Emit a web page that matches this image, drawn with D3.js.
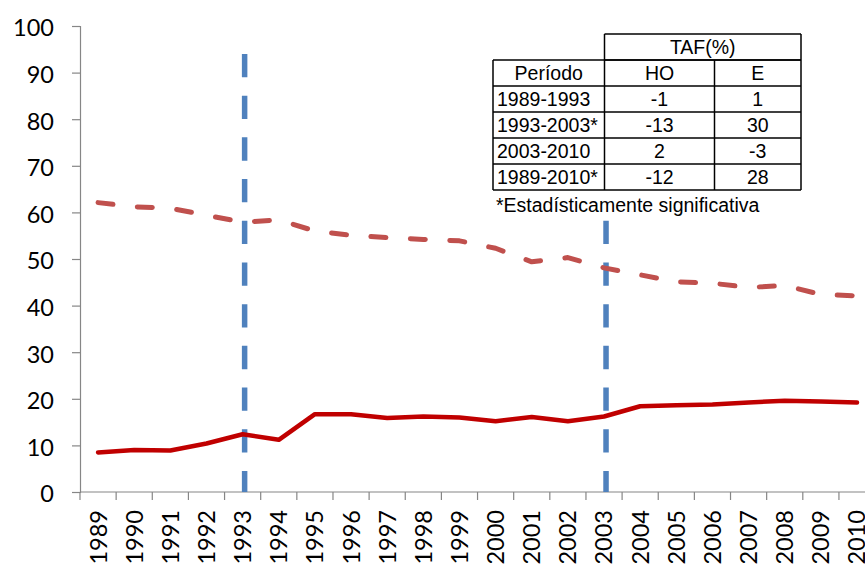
<!DOCTYPE html>
<html>
<head>
<meta charset="utf-8">
<script src="https://cdn.jsdelivr.net/npm/d3@7/dist/d3.min.js"></script>
<style>
  html, body { margin: 0; padding: 0; background: #fff; }
  svg { display: block; }
</style>
</head>
<body>
<svg id="chart" width="865" height="565"></svg>
<script>
// ---- data ----
const years = ["1989","1990","1991","1992","1993","1994","1995","1996","1997","1998","1999",
               "2000","2001","2002","2003","2004","2005","2006","2007","2008","2009","2010"];
// dashed series (HO)
const hoValues = [62.1, 61.2, 60.9, 59.4, 57.9, 58.4, 56.0, 55.1, 54.6, 54.2, 53.9,
                  52.3, 49.4, 50.3, 48.1, 46.6, 45.1, 44.8, 43.9, 44.3, 42.4, 42.1];
// solid series (E)
const eValues = [8.5, 9.0, 8.9, 10.4, 12.4, 11.2, 16.7, 16.7, 15.9, 16.2, 16.0,
                 15.2, 16.1, 15.2, 16.2, 18.4, 18.6, 18.8, 19.2, 19.6, 19.4, 19.2];
const yTicks = [0, 10, 20, 30, 40, 50, 60, 70, 80, 90, 100];
const breakYears = ["1993", "2003"];
const breakTop = 94;

const tableTitle = "TAF(%)";
const tableHeader = ["Período", "HO", "E"];
const tablePeriods = ["1989-1993", "1993-2003*", "2003-2010", "1989-2010*"];
const tableHO = ["-1", "-13", "2", "-12"];
const tableE = ["1", "30", "-3", "28"];
const footnote = "*Estadísticamente significativa";

// ---- layout ----
const svg = d3.select("#chart");
const plotLeft = 80, plotBottom = 492, plotTop = 26, catStep = 36.14;
const x = d3.scaleBand().domain(years).range([plotLeft, plotLeft + catStep * years.length]).padding(0);
const y = d3.scaleLinear().domain([0, 100]).range([plotBottom, plotTop]);
const axisColor = "#868686";
const tickFont = "Lato, 'Open Sans', sans-serif";

// y axis
const yAxis = d3.axisLeft(y).tickValues(yTicks).tickSize(8).tickPadding(18).tickFormat(d3.format("d"));
const gy = svg.append("g").attr("transform", `translate(${plotLeft},0)`).call(yAxis);
gy.select(".domain").attr("stroke", axisColor).attr("stroke-width", 1.2);
gy.selectAll(".tick line").attr("stroke", axisColor).attr("stroke-width", 1.2);
gy.selectAll(".tick text").attr("font-family", tickFont).attr("font-size", "23.5px")
  .attr("fill", "#000").attr("dy", "0.42em");

// x axis
const gx = svg.append("g").attr("transform", `translate(0,${plotBottom})`);
gx.append("line").attr("x1", plotLeft).attr("x2", x.range()[1]).attr("y1", 0).attr("y2", 0)
  .attr("stroke", axisColor).attr("stroke-width", 1.2);
const bounds = years.map(d => x(d)).concat([x.range()[1]]);
gx.selectAll("line.tk").data(bounds).enter().append("line").attr("class", "tk")
  .attr("x1", d => d).attr("x2", d => d).attr("y1", 0).attr("y2", 8)
  .attr("stroke", axisColor).attr("stroke-width", 1.2);
gx.selectAll("text").data(years).enter().append("text")
  .attr("transform", d => `translate(${x(d) + x.bandwidth() / 2},18) rotate(-90)`)
  .attr("text-anchor", "end").attr("dy", "0.36em")
  .attr("font-family", tickFont).attr("font-size", "23.5px").attr("fill", "#000")
  .text(d => d);

// vertical period break lines
svg.selectAll("line.brk").data(breakYears).enter().append("line").attr("class", "brk")
  .attr("x1", d => x(d) + x.bandwidth() / 2 + 2).attr("x2", d => x(d) + x.bandwidth() / 2 + 2)
  .attr("y1", y(breakTop)).attr("y2", y(0))
  .attr("stroke", "#4F81BD").attr("stroke-width", 5.5).attr("stroke-dasharray", "23.3 18.4");

// series lines
const line = d3.line().x((d, i) => x(years[i]) + x.bandwidth() / 2).y(d => y(d));
svg.append("path").datum(hoValues).attr("d", line).attr("fill", "none")
  .attr("stroke", "#C0504D").attr("stroke-width", 5).attr("stroke-linecap", "round")
  .attr("stroke-linejoin", "round").attr("stroke-dasharray", "15 24.5");
svg.append("path").datum(eValues).attr("d", line).attr("fill", "none")
  .attr("stroke", "#C00000").attr("stroke-width", 4.5).attr("stroke-linecap", "round")
  .attr("stroke-linejoin", "round");

// ---- table ----
const tFont = "'Liberation Sans', Arial, sans-serif";
const tX = [493, 604.5, 714.5, 801];
const tTop = 34, rowH = 26;
const tg = svg.append("g");
tg.append("rect").attr("x", tX[0] - 2).attr("y", tTop - 1).attr("width", tX[3] - tX[0] + 4)
  .attr("height", 184).attr("fill", "#fff");
const nRows = 2 + tablePeriods.length;
const lc = "#000", lw = 1.5;
tg.append("line").attr("x1", tX[1]).attr("x2", tX[3]).attr("y1", tTop).attr("y2", tTop).attr("stroke", lc).attr("stroke-width", lw);
for (let r = 1; r <= nRows; r++) {
  tg.append("line").attr("x1", r === 1 ? tX[1] : tX[0]).attr("x2", tX[3])
    .attr("y1", tTop + r * rowH).attr("y2", tTop + r * rowH).attr("stroke", lc).attr("stroke-width", lw);
}
tg.append("line").attr("x1", tX[0]).attr("x2", tX[3]).attr("y1", tTop + rowH).attr("y2", tTop + rowH).attr("stroke", lc).attr("stroke-width", lw);
tg.append("line").attr("x1", tX[0]).attr("x2", tX[0]).attr("y1", tTop + rowH).attr("y2", tTop + nRows * rowH).attr("stroke", lc).attr("stroke-width", lw);
tg.append("line").attr("x1", tX[1]).attr("x2", tX[1]).attr("y1", tTop).attr("y2", tTop + nRows * rowH).attr("stroke", lc).attr("stroke-width", lw);
tg.append("line").attr("x1", tX[2]).attr("x2", tX[2]).attr("y1", tTop + rowH).attr("y2", tTop + nRows * rowH).attr("stroke", lc).attr("stroke-width", lw);
tg.append("line").attr("x1", tX[3]).attr("x2", tX[3]).attr("y1", tTop).attr("y2", tTop + nRows * rowH).attr("stroke", lc).attr("stroke-width", lw);

function cell(txt, xx, row, anchor) {
  tg.append("text").attr("x", xx).attr("y", tTop + row * rowH + rowH / 2).attr("dy", "0.36em")
    .attr("text-anchor", anchor).attr("font-family", tFont).attr("font-size", "19.5px").attr("fill", "#000").text(txt);
}
cell(tableTitle, (tX[1] + tX[3]) / 2, 0, "middle");
cell(tableHeader[0], (tX[0] + tX[1]) / 2, 1, "middle");
cell(tableHeader[1], (tX[1] + tX[2]) / 2, 1, "middle");
cell(tableHeader[2], (tX[2] + tX[3]) / 2, 1, "middle");
tablePeriods.forEach((p, i) => {
  cell(p, tX[0] + 4, i + 2, "start");
  cell(tableHO[i], (tX[1] + tX[2]) / 2, i + 2, "middle");
  cell(tableE[i], (tX[2] + tX[3]) / 2, i + 2, "middle");
});
tg.append("text").attr("x", tX[0] + 3).attr("y", tTop + nRows * rowH + 15).attr("dy", "0.36em")
  .attr("font-family", tFont).attr("font-size", "19.5px").attr("fill", "#000").text(footnote);
</script>
</body>
</html>
